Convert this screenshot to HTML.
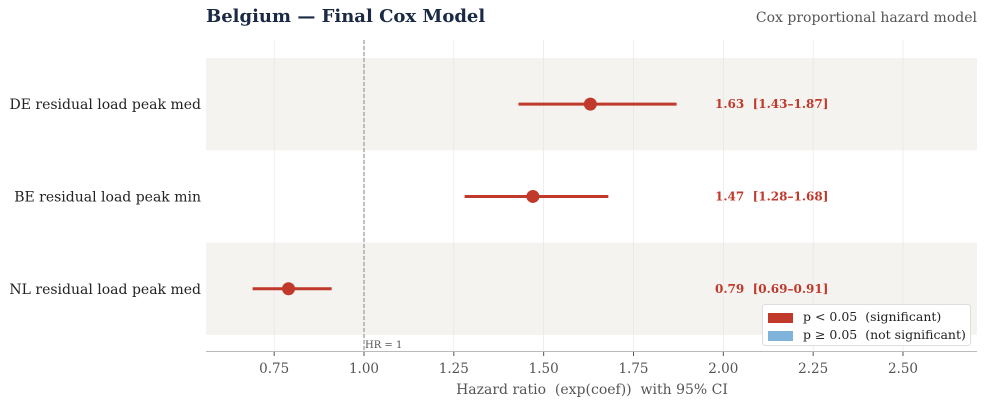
<!DOCTYPE html>
<html><head><meta charset="utf-8"><style>
body{margin:0;background:#fff;}
svg text{font-family:"DejaVu Serif","Liberation Serif",serif;white-space:pre;}
</style></head><body>
<svg id="c" width="987" height="406" xmlns="http://www.w3.org/2000/svg"></svg>
<script>
const categories=["DE residual load peak med","BE residual load peak min","NL residual load peak med"];
const hr=[1.63,1.47,0.79];
const lo=[1.43,1.28,0.69];
const hi=[1.87,1.68,0.91];
const ticks=[0.75,1.00,1.25,1.50,1.75,2.00,2.25,2.50];
const NS="http://www.w3.org/2000/svg";
const svg=document.getElementById('c');
const L=206,R=977,dmin=0.5603,dmax=2.706;
const x=v=>L+(v-dmin)/(dmax-dmin)*(R-L);
const rowTop=58,rowH=92.3;
const y=i=>rowTop+rowH*i+rowH/2;
function mk(t,a,txt){const e=document.createElementNS(NS,t);for(const k in a)e.setAttribute(k,a[k]);if(txt!=null)e.textContent=txt;svg.appendChild(e);return e;}
categories.forEach((c,i)=>{if(i%2===0){const b=mk('rect',{x:L,y:rowTop+rowH*i,width:R-L,height:rowH,fill:'#f4f3ef'});

}});
ticks.forEach(t=>{const g=mk('line',{x1:x(t),x2:x(t),y1:40,y2:351,stroke:'#e4e4e4','stroke-width':0.6});

});
const rl=mk('line',{x1:x(1),x2:x(1),y1:40,y2:351,stroke:'#999','stroke-width':1.2,'stroke-dasharray':'4,2'});


const rt=mk('text',{x:x(1)+1,y:348,'font-size':10,fill:'#555'},'HR = 1');


const ax=mk('line',{x1:L,x2:R,y1:351.5,y2:351.5,stroke:'#bbb','stroke-width':1});


ticks.forEach(t=>{const tk=mk('line',{x1:x(t),x2:x(t),y1:352,y2:356,stroke:'#555'});


const tl=mk('text',{x:x(t),y:373,'font-size':13.5,fill:'#555','text-anchor':'middle'},t.toFixed(2));

});
const at=mk('text',{x:592,y:394,'font-size':14,fill:'#555','text-anchor':'middle'},'Hazard ratio  (exp(coef))  with 95% CI');


categories.forEach((c,i)=>{
const lab=mk('text',{x:201,y:y(i)+5,'font-size':14,fill:'#222','text-anchor':'end'},c);


const ci=mk('line',{x1:x(lo[i]),x2:x(hi[i]),y1:y(i),y2:y(i),stroke:'#c0392b','stroke-width':3});


const pt=mk('circle',{cx:x(hr[i]),cy:y(i),r:6.5,fill:'#c0392b'});


const v=mk('text',{x:715,y:y(i)+4,'font-size':12,'font-weight':'bold',fill:'#c0392b'},hr[i].toFixed(2)+'  ['+lo[i].toFixed(2)+'–'+hi[i].toFixed(2)+']');


});
</script>
<div style="position:absolute;left:0;top:0;width:987px;height:406px;pointer-events:none;font-family:'DejaVu Serif','Liberation Serif',serif;">
<div style="position:absolute;left:206px;top:6px;font-size:18px;font-weight:bold;color:#1a2a44;">Belgium — Final Cox Model</div>
<div style="position:absolute;right:10px;top:10px;font-size:14px;color:#555;">Cox proportional hazard model</div>
<div style="position:absolute;left:762px;top:304px;width:207px;height:40px;border:1px solid #ddd;border-radius:3px;background:#fff;font-size:12.5px;color:#222;">
<div style="position:absolute;left:5px;top:4px;white-space:pre;"><span style="display:inline-block;width:25px;height:10px;background:#c0392b;vertical-align:middle;margin-right:10px;"></span>p &lt; 0.05  (significant)</div>
<div style="position:absolute;left:5px;top:22px;white-space:pre;"><span style="display:inline-block;width:25px;height:10px;background:#7fb3d9;vertical-align:middle;margin-right:10px;"></span>p ≥ 0.05  (not significant)</div>
</div>
</div>
</body></html>
